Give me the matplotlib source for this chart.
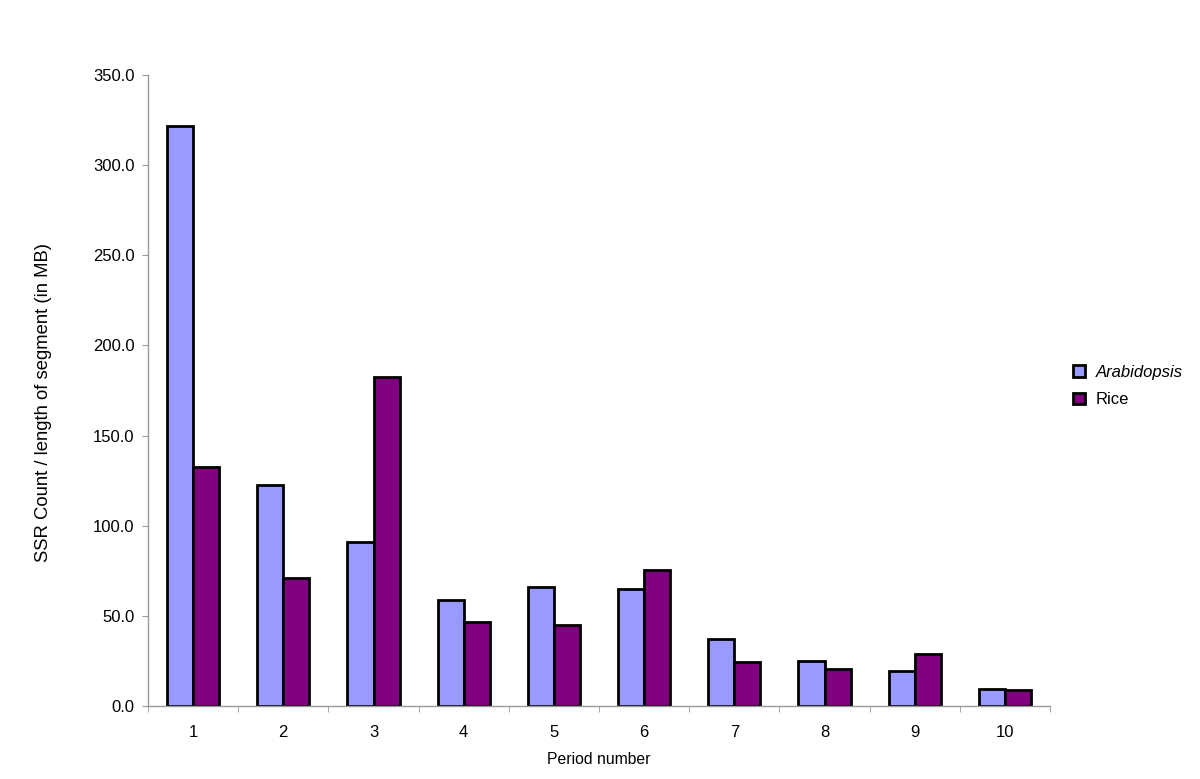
import matplotlib
matplotlib.use("Agg")
import matplotlib.pyplot as plt
import numpy as np

periods = ["1", "2", "3", "4", "5", "6", "7", "8", "9", "10"]
arabidopsis = [321.7, 122.7, 91.0, 58.8, 66.0, 64.9, 37.2, 25.0, 19.4, 9.4]
rice = [132.6, 71.0, 182.5, 46.6, 45.0, 75.4, 24.4, 20.5, 28.8, 8.9]
yticks = [0, 50, 100, 150, 200, 250, 300, 350]

plt.rcParams['font.family'] = ['Liberation Sans', 'DejaVu Sans']

fig = plt.figure(figsize=(12, 7.79), dpi=100)
ax = fig.add_axes([148/1200, 73/779, 902/1200, 631/779])

x = np.arange(len(periods))
w = 0.29
ax.bar(x - w/2, arabidopsis, w, color='#9999ff', edgecolor='black', linewidth=2, label='Arabidopsis')
ax.bar(x + w/2, rice, w, color='#800080', edgecolor='black', linewidth=2, label='Rice')

ax.set_xlim(-0.5, len(periods) - 0.5)
ax.set_ylim(0, 350)
ax.set_yticks(yticks)
ax.set_yticklabels([f"{v:.1f}" for v in yticks], fontsize=12)
ax.set_xticks(x)
ax.set_xticklabels(periods, fontsize=12)
ax.tick_params(axis='x', length=0, pad=13.5)
ax.set_xticks(np.arange(-0.5, len(periods), 1.0), minor=True)
ax.tick_params(axis='x', which='minor', length=4.3, color='#999999', direction='out')
ax.tick_params(axis='y', length=4.3, color='#999999', direction='out', pad=5.5)

for s in ['top', 'right']:
    ax.spines[s].set_visible(False)
for s in ['left', 'bottom']:
    ax.spines[s].set_color('#999999')
    ax.spines[s].set_linewidth(1)

ax.set_xlabel('Period number', fontsize=11.3, labelpad=9)
fig.text(43.5/1200, 1 - 402/779, 'SSR Count / length of segment (in MB)', fontsize=13.3,
         rotation=90, ha='center', va='center')

leg = fig.legend(loc='center left', bbox_to_anchor=(1073/1200, 1 - 386/779), frameon=False,
                 fontsize=12, handlelength=0.7, handleheight=0.7, handletextpad=0.66,
                 labelspacing=0.75, borderpad=0, borderaxespad=0)
leg.get_texts()[0].set_style('italic')

fig.savefig('out.png', dpi=100)
